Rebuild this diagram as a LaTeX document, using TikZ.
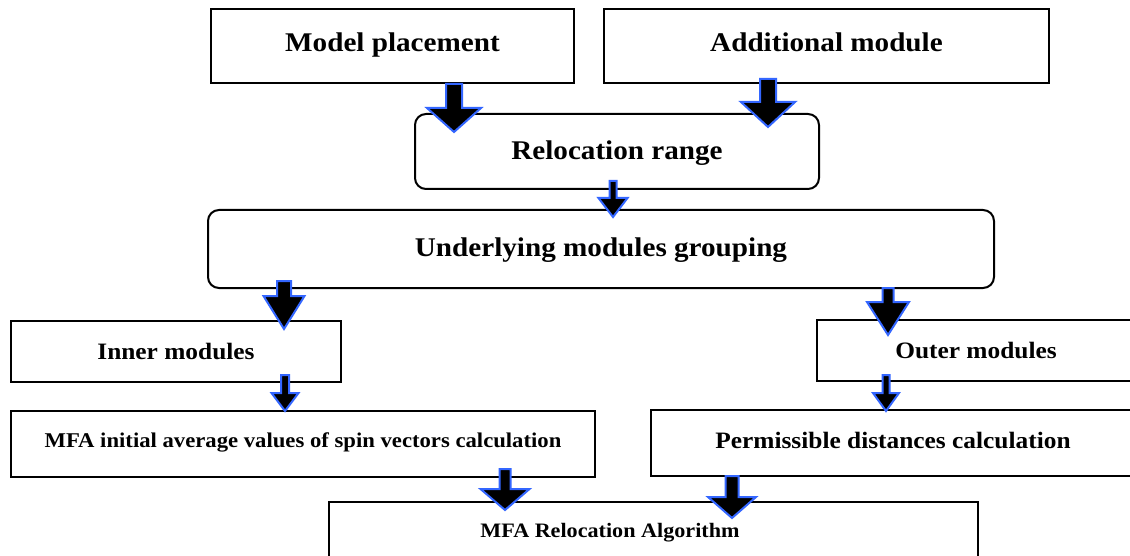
\documentclass[tikz,border=0pt]{standalone}
\usepackage{fontspec}
\setmainfont[FakeStretch=1.08]{Liberation Serif}
\usetikzlibrary{calc}
\definecolor{arrowblue}{RGB}{51,102,255}
\tikzset{
  box/.style={draw=black, line width=2.5pt, fill=white, inner sep=0pt, text depth=0pt},
  rbox/.style={draw=black, line width=2pt, fill=white, inner sep=0pt, rounded corners=11pt, text depth=0pt},
  barrow/.style={fill=black, draw=arrowblue, line width=2pt, line join=miter},
  big/.style={font=\bfseries\fontsize{27}{32}\selectfont},
  mid/.style={font=\bfseries\fontsize{23.5}{28}\selectfont},
  small/.style={font=\bfseries\fontsize{21}{25}\selectfont},
  perms/.style={font=\bfseries\fontsize{23.5}{28}\selectfont},
  mfas/.style={font=\bfseries\fontsize{20.5}{25}\selectfont, text height=13.6pt, text depth=0pt}
}
\newcommand\blockarrow[5]{%
  \filldraw[barrow] ($(#1)+(-#3,0)$) -- ($(#2)+(-#3,-#5)$) -- ($(#2)+(-#4,-#5)$) -- (#2)
    -- ($(#2)+(#4,-#5)$) -- ($(#2)+(#3,-#5)$) -- ($(#1)+(#3,0)$) -- cycle;}
\begin{document}
\begin{tikzpicture}[x=1pt,y=-1pt]
\useasboundingbox (0,0) rectangle (1130,556);
\clip (0,0) rectangle (1130,556);
\fill[white] (0,0) rectangle (1130,556);
% boxes
\node[box, big, minimum width=363pt, minimum height=74pt, text height=10.9pt] (mp) at (392.5,46) {Model placement};
\node[box, big, minimum width=445pt, minimum height=74pt, text height=10.9pt] (am) at (826.5,46) {Additional module};
\node[rbox, big, minimum width=404pt, minimum height=75pt, text height=16.9pt] (relo) at (617,151.5) {Relocation range};
\node[rbox, big, minimum width=786pt, minimum height=78pt, text height=14.9pt] (ug) at (601,249) {Underlying modules grouping};
\node[box, mid, minimum width=330pt, minimum height=61pt, text height=15.6pt] (inner) at (176,351.5) {Inner modules};
\node[box, mid, minimum width=318pt, minimum height=61pt, text height=15.6pt] (outer) at (976,350.5) {Outer modules};
\node[box, small, minimum width=584pt, minimum height=66pt, text height=7.9pt] (mfai) at (303,444) {MFA initial average values of spin vectors calculation};
\node[box, perms, minimum width=484pt, minimum height=66pt, text height=10.6pt] (perm) at (893,443) {Permissible distances calculation};
\node[box, minimum width=649pt, minimum height=120pt] (mfar) at (653.5,562) {};
\node[mfas] (mfart) at (610,531) {MFA Relocation Algorithm};
% arrow coordinates
\coordinate (a1s) at (454,84);  \coordinate (a1t) at (454,132);
\coordinate (a2s) at (768,79);  \coordinate (a2t) at (768,127);
\coordinate (a3s) at (613,181); \coordinate (a3t) at (613,217);
\coordinate (a4s) at (284,281); \coordinate (a4t) at (284,329);
\coordinate (a5s) at (888,288); \coordinate (a5t) at (888,335);
\coordinate (a6s) at (285,375); \coordinate (a6t) at (285,411);
\coordinate (a7s) at (886,375); \coordinate (a7t) at (886,411);
\coordinate (a8s) at (505,469); \coordinate (a8t) at (505,510);
\coordinate (a9s) at (732,476); \coordinate (a9t) at (732,518);
% arrows (mp->relo, am->relo, relo->ug, ug->inner, ug->outer, inner->mfai, outer->perm, mfai->mfar, perm->mfar)
\blockarrow{a1s}{a1t}{8}{27}{24}
\blockarrow{a2s}{a2t}{8}{27}{25}
\blockarrow{a3s}{a3t}{3.5}{14.5}{19}
\blockarrow{a4s}{a4t}{7}{20.5}{33}
\blockarrow{a5s}{a5t}{5.5}{21}{33}
\blockarrow{a6s}{a6t}{4}{13.5}{18}
\blockarrow{a7s}{a7t}{3.5}{13}{18}
\blockarrow{a8s}{a8t}{5.5}{24.5}{21}
\blockarrow{a9s}{a9t}{6.5}{24}{21}
\end{tikzpicture}
\end{document}
